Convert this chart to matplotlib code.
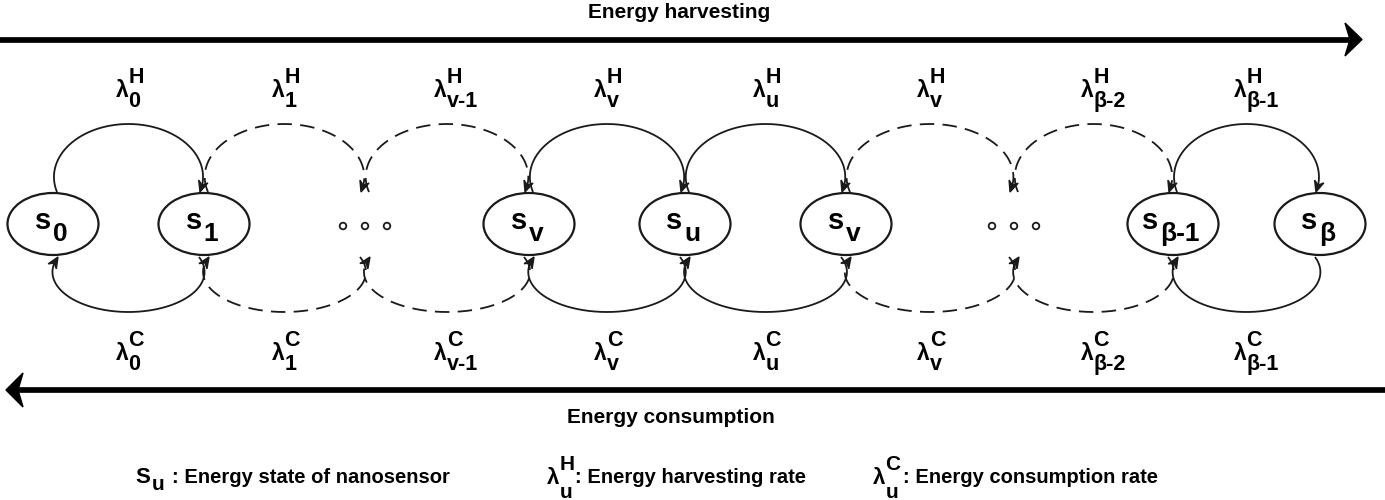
import numpy as np
import matplotlib
matplotlib.use('Agg')
import matplotlib.pyplot as plt
from matplotlib import font_manager
from matplotlib.patches import Ellipse, Circle, Polygon

## fuente: narrow si existe
names = {f.name for f in font_manager.fontManager.ttflist}
fam = 'Liberation Sans Narrow' if 'Liberation Sans Narrow' in names else 'Liberation Sans'
plt.rcParams['font.family'] = [fam, 'DejaVu Sans']

## estados y tasas
state_subs = ['0', '1', '...', 'v', 'u', 'v', '...', 'β-1', 'β']
rate_subs = ['0', '1', 'v-1', 'v', 'u', 'v', 'β-2', 'β-1']
arc_solid = [True, False, False, True, True, False, False, True]
title_top = 'Energy harvesting'
title_bottom = 'Energy consumption'
legend_txt = [': Energy state of nanosensor', ': Energy harvesting rate', ': Energy consumption rate']

# posiciones (pixeles)
pos_x = [53, 204, 365, 529, 685, 846, 1014, 1173, 1320]
cy = 224
top_base, bot_base = 192, 257
top_apex, bot_apex = 124, 312

fig = plt.figure(figsize=(13.85, 5), dpi=100)
ax = fig.add_axes([0, 0, 1, 1])
ax.set_xlim(0, 1385)
ax.set_ylim(500, 0)
ax.axis('off')
r = fig.canvas.get_renderer()


def put(x, y, s, size, ha='left'):
    t = ax.text(x, y, s, fontsize=size, fontweight='bold', ha=ha, va='baseline')
    return t.get_window_extent(r).x1


def width(s, size):
    t = ax.text(0, 0, s, fontsize=size, fontweight='bold')
    w = t.get_window_extent(r).width
    t.remove()
    return w


def head(xt, yt, dx, dy, L=11, w=4.8, lw=1.0):
    n = np.hypot(dx, dy)
    ux, uy = dx / n, dy / n
    px, py = -uy, ux
    bx, by = xt - L * ux, yt - L * uy
    nx, ny = xt - 0.65 * L * ux, yt - 0.65 * L * uy
    pts = [(xt, yt), (bx + w * px, by + w * py), (nx, ny), (bx - w * px, by - w * py)]
    ax.add_patch(Polygon(pts, closed=True, fc='#1a1a1a', ec='#1a1a1a', lw=lw))


def arc(x1, x2, base, apex, solid, drop=15):
    xm = (x1 + x2) / 2
    half = abs(x2 - x1) / 2
    sgn = 1 if apex < base else -1
    c = base - sgn * drop
    b = abs(c - apex)
    a = half / np.sqrt(1 - (drop / b) ** 2)
    t0 = -np.arcsin(drop / b)
    t = np.linspace(t0, np.pi - t0, 300)
    xs = xm - a * np.cos(t)
    ys = c - sgn * b * np.sin(t)
    if x2 < x1:
        xs, ys = xs[::-1], ys[::-1]
    ls = '-' if solid else (0, (8, 4.6))
    ax.plot(xs[:-4], ys[:-4], color='#1a1a1a', lw=1.3, ls=ls, solid_capstyle='butt')
    head(xs[-1], ys[-1], xs[-1] - xs[-12], ys[-1] - ys[-12])


def rate(x, yb, sub, sup, size=16.5):
    xr = put(x, yb, 'λ', size)
    put(xr, yb - 14, sup, size - 1)
    put(xr, yb + 10, sub, size - 1)


# flechas grandes
ax.plot([0, 1349], [39.5, 39.5], color='black', lw=4.1, solid_capstyle='butt')
ax.add_patch(Polygon([(1362, 39.5), (1345, 23), (1350, 39.5), (1345, 56)], closed=True, fc='black', ec='black'))
ax.plot([1385, 18], [390, 390], color='black', lw=4.1, solid_capstyle='butt')
ax.add_patch(Polygon([(6, 390), (23, 373), (18, 390), (23, 407)], closed=True, fc='black', ec='black'))
put(679, 18, title_top, 15, ha='center')
put(671, 423, title_bottom, 15, ha='center')

# estados
for x, s in zip(pos_x, state_subs):
    if s == '...':
        for dx in (-22, 0, 22):
            ax.add_patch(Circle((x + dx, cy + 2), 3.3, fc='white', ec='#1a1a1a', lw=1.3))
        continue
    ax.add_patch(Ellipse((x, cy), 91, 62, fc='white', ec='#1a1a1a', lw=1.6, zorder=3))
    w = width('s', 21) + 2 + width(s, 19)
    x0 = x - 2 - w / 2
    t = ax.text(x0, 229, 's', fontsize=21, fontweight='bold', va='baseline', zorder=4)
    xr = t.get_window_extent(r).x1
    ax.text(xr + 2, 241, s, fontsize=19, fontweight='bold', va='baseline', zorder=4)

# arcos
for i in range(len(pos_x) - 1):
    xa, xb = pos_x[i], pos_x[i + 1]
    arc(xa + 4, xb - 4, top_base, top_apex, arc_solid[i])
    arc(xb - 5, xa + 5, bot_base, bot_apex, arc_solid[i])
    xm = (xa + xb) / 2
    rate(xm - 13, 97, rate_subs[i], 'H')
    rate(xm - 13, 360, rate_subs[i], 'C')

# leyenda
xr = put(135, 483, 'S', 16)
xr = put(xr + 2, 490, 'u', 15)
put(xr + 7, 483, legend_txt[0], 14.5)
xr = put(547, 484, 'λ', 16)
put(xr, 470, 'H', 15)
xr2 = put(xr, 498, 'u', 15)
put(xr2 + 3, 483, legend_txt[1], 14.5)
xr = put(873, 484, 'λ', 16)
put(xr, 470, 'C', 15)
xr2 = put(xr, 498, 'u', 15)
put(xr2 + 5, 483, legend_txt[2], 14.5)

fig.savefig('out.png', dpi=100)
